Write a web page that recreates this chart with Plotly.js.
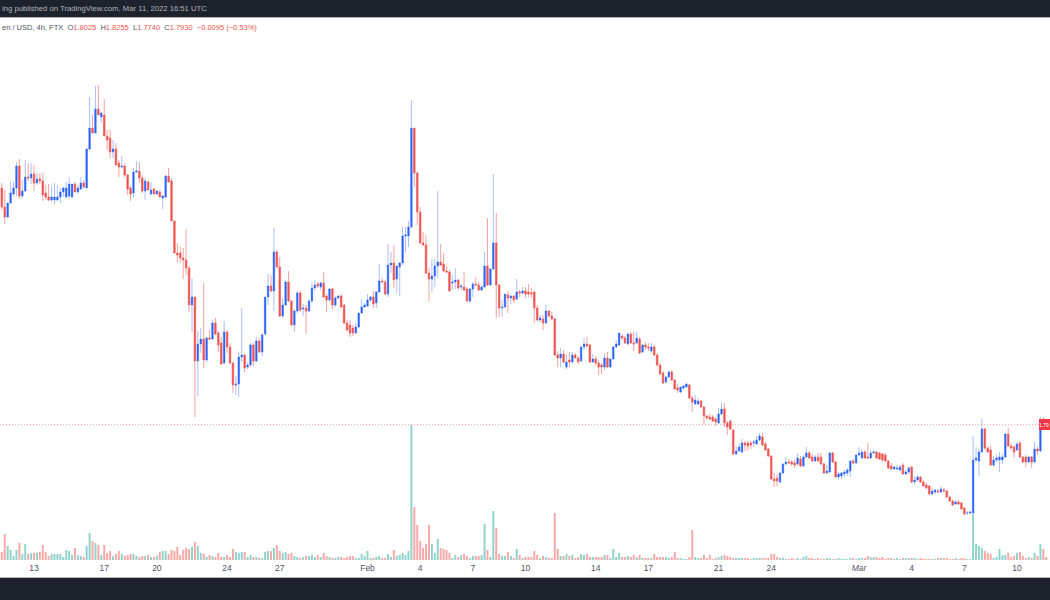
<!DOCTYPE html>
<html><head><meta charset="utf-8">
<script src="https://cdn.plot.ly/plotly-3.0.1.min.js"></script>
<style>html,body{margin:0;padding:0;background:#fff;overflow:hidden}#c{width:1050px;height:600px}</style>
</head><body><div id="c"></div>
<script>
// Prices in US cents. One candle every 4 hours from the start time.
const startTime = Date.UTC(2022,0,11,0,0);
const opens = [
416,416,397,387,401,410,416,438,408,413,
427,426,430,421,425,423,411,407,404,404,
404,407,412,407,408,407,420,412,415,421,
416,455,476,471,495,487,489,468,466,452,
455,441,437,438,429,416,411,432,433,426,
413,422,410,415,410,412,406,407,428,423,
383,351,351,346,344,336,299,307,243,260,
265,244,266,265,281,271,261,241,272,257,
241,219,220,247,249,237,239,259,243,263,
252,270,307,318,313,352,337,288,299,322,
303,279,293,311,295,296,293,303,316,320,
317,321,308,304,315,299,306,308,299,281,
279,276,271,277,291,297,298,304,307,301,
312,323,322,310,339,341,325,337,341,368,
368,377,476,431,392,361,359,331,325,328,
338,342,340,333,332,321,322,324,317,317,
315,303,315,320,319,314,317,338,319,335,
361,319,296,297,309,306,308,305,312,311,
313,312,311,312,296,284,285,281,293,288,
285,249,246,250,237,244,242,249,246,243,
257,260,259,242,245,241,239,237,246,237,
245,257,259,268,266,260,270,261,261,265,
252,259,257,253,257,249,239,231,222,227,
232,224,216,212,216,217,219,206,200,200,
203,197,188,187,187,185,181,190,195,181,
183,174,150,153,152,161,161,161,161,160,
164,167,160,155,148,125,126,122,131,140,
142,142,141,140,145,138,147,151,147,143,
147,147,140,131,132,151,142,127,128,130,
131,133,143,141,149,146,152,147,146,151,
152,151,150,149,143,138,135,135,134,139,
130,132,137,122,124,127,122,119,118,110,
112,113,112,114,113,107,103,100,102,101,
96,91,91,91,144,143,152,175,156,154,
139,144,144,144,147,170,158,157,154,161,
147,147,142,147,142,155,153,184,180.25];
const highs = [
419,421,414,401,422,422,442,445,424,444,
441,441,439,432,431,431,419,420,418,421,
418,416,417,422,427,420,422,419,427,424,
419,507,489,518,519,492,505,474,474,464,
461,444,448,441,430,418,436,443,442,429,
426,424,422,416,414,414,409,429,436,426,
383,361,357,356,375,338,326,307,273,276,
321,267,274,284,286,273,267,283,274,261,
242,228,252,296,250,242,261,261,267,266,
271,272,330,329,376,354,347,306,324,333,
304,295,313,313,300,299,305,322,324,322,
322,332,310,316,316,308,309,310,300,284,
284,279,281,291,305,301,310,308,313,313,
340,326,324,360,352,359,337,342,377,377,
383,504,476,432,397,372,369,336,345,345,
413,360,351,338,334,329,336,325,320,332,
317,316,322,327,322,319,352,386,336,430,
391,320,304,310,313,309,309,325,314,317,
317,320,316,313,299,289,289,299,294,292,
286,253,256,254,249,252,252,251,248,258,
266,267,260,250,248,244,241,251,252,246,
258,264,271,270,268,271,272,272,272,267,
260,262,261,261,259,251,241,233,228,234,
234,225,220,217,219,221,220,208,209,206,
204,198,189,190,189,187,196,201,201,183,
184,175,158,161,165,163,163,163,164,168,
171,171,162,156,149,131,130,132,141,147,
145,144,144,151,148,149,157,153,150,149,
151,151,141,139,152,152,143,132,132,134,
136,144,145,150,157,155,154,161,154,154,
153,152,151,151,144,141,138,139,139,141,
134,138,138,128,129,128,124,121,119,116,
115,115,118,116,114,108,104,104,104,102,
97,93,93,168,157,155,186,176,157,158,
148,149,152,150,171,176,160,159,162,163,
148,149,148,148,162,157,187,187,182.55];
const lows = [
399,394,380,386,400,408,408,405,406,412,
423,420,413,419,420,403,404,403,402,400,
403,401,407,406,406,406,412,411,414,416,
416,454,471,471,489,481,468,454,446,446,
439,427,436,427,409,403,406,431,421,411,
404,414,409,409,409,407,395,406,422,383,
351,342,341,325,329,292,272,187,208,251,
236,242,264,264,269,252,239,240,251,240,
211,209,207,242,232,235,238,238,242,251,
248,269,299,312,293,336,287,286,298,302,
278,272,291,292,288,270,292,301,314,316,
314,306,292,302,295,297,305,296,280,273,
267,268,270,276,290,296,297,302,296,296,
311,321,309,307,331,316,311,308,339,352,
357,376,417,379,360,358,330,303,312,317,
326,338,332,331,313,314,315,315,314,313,
302,301,307,318,313,313,316,318,318,334,
286,287,287,296,291,300,301,304,307,310,
306,307,306,281,283,282,274,280,287,284,
248,237,237,241,235,237,241,245,240,242,
254,257,241,241,239,229,230,234,236,236,
244,256,258,264,260,259,260,253,260,250,
251,254,253,251,248,238,229,220,220,226,
223,214,211,211,214,216,205,192,199,199,
196,180,184,184,182,178,180,189,177,169,
174,149,149,152,151,153,153,155,157,159,
163,158,153,147,124,117,118,121,130,139,
140,138,136,138,137,137,146,145,142,142,
142,139,130,130,131,141,126,125,125,127,
128,127,140,140,148,145,145,145,145,150,
145,144,142,142,135,134,134,134,132,129,
129,130,121,120,123,121,117,115,109,109,
110,111,111,112,106,102,98,99,99,94,
89,89,90,90,142,128,151,154,151,138,
137,142,132,140,146,157,154,146,153,146,
141,137,141,136,141,149,152,178,177.40];
const closes = [
414,397,387,401,411,416,438,408,413,427,
426,430,421,425,423,409,407,404,407,407,
407,412,416,416,420,420,412,416,421,417,
455,476,471,495,489,491,468,464,452,455,
439,437,438,429,415,410,432,433,426,413,
423,414,414,410,413,407,408,428,422,383,
351,349,346,344,336,299,307,243,260,265,
244,266,265,281,270,259,240,272,257,241,
219,220,247,249,236,239,259,243,263,252,
269,307,318,313,352,337,288,299,322,303,
279,293,311,294,296,293,303,316,319,318,
321,307,304,315,299,306,308,297,281,274,
271,271,277,291,297,299,304,307,300,312,
323,322,310,339,341,324,338,341,368,369,
377,476,431,392,361,359,331,325,328,338,
342,339,333,332,313,322,324,316,318,314,
303,315,320,319,314,317,338,319,335,361,
319,296,297,310,306,308,304,312,311,313,
310,310,310,296,284,286,281,293,288,285,
249,246,250,242,242,242,249,246,242,257,
260,258,242,245,241,237,237,246,237,245,
257,260,271,266,261,270,261,260,266,251,
259,257,256,257,249,239,230,221,227,232,
224,215,214,217,218,220,206,202,204,203,
197,188,186,185,183,182,190,195,181,177,
175,150,153,157,161,159,158,159,162,164,
168,159,154,148,125,123,123,131,140,142,
141,140,139,146,138,147,151,146,143,147,
143,140,131,133,151,142,127,130,131,132,
134,143,141,149,151,152,146,146,151,152,
146,145,144,143,136,135,137,136,137,130,
132,136,122,124,127,122,118,116,110,113,
114,112,115,113,107,103,99,102,100,95,
90,91,92,144,146,152,175,156,152,139,
144,146,147,147,170,158,156,152,160,147,
142,142,147,142,155,153,184,183,179.30];
const volumes = [
6,8,26,14,10,4,10,17,6,16,
6,7,7,7,8,15,8,4,6,6,
6,6,3,10,9,5,12,5,4,3,
14,27,19,17,15,5,15,7,9,4,
6,9,6,4,5,6,6,4,3,4,
4,5,3,3,4,8,9,9,6,10,
9,13,5,10,12,11,13,18,14,7,
6,3,5,4,3,7,3,3,5,3,
11,8,7,8,8,3,5,3,3,2,
2,8,9,9,12,15,9,7,8,6,
7,4,3,2,3,4,4,5,3,5,
3,7,4,3,2,2,3,3,2,3,
4,4,2,2,6,4,9,2,2,3,
4,2,2,6,3,10,4,5,7,5,
9,135,53,35,19,12,16,35,16,7,
21,12,11,10,7,2,5,3,5,6,
4,2,4,4,4,5,36,10,3,49,
32,6,4,4,8,4,2,11,5,2,
3,3,3,9,5,2,4,3,2,2,
47,11,4,4,6,4,5,2,3,6,
5,6,3,3,3,3,3,5,5,2,
11,3,7,3,3,4,3,5,3,5,
2,2,2,2,6,3,3,3,3,2,
3,8,2,2,1,1,3,30,3,2,
2,5,2,5,1,2,3,4,5,4,
3,2,2,2,2,2,2,1,2,2,
2,2,2,2,6,6,3,2,2,1,
1,2,1,2,1,3,4,2,2,1,
2,1,1,2,2,1,1,2,1,1,
1,2,2,1,2,2,2,4,3,3,
3,2,3,1,2,2,1,2,1,2,
2,2,2,2,1,2,1,1,1,1,
1,2,2,2,2,1,1,2,1,2,
2,1,1,46,16,14,12,9,7,6,
2,3,11,5,5,7,3,4,7,8,
4,2,3,2,7,4,16,11,3];
const tickDates = ["2022-01-13","2022-01-17","2022-01-20","2022-01-24","2022-01-27","2022-02-01","2022-02-04","2022-02-07","2022-02-10","2022-02-14","2022-02-17","2022-02-21","2022-02-24","2022-03-01","2022-03-04","2022-03-07","2022-03-10"];
const tickLabels = ["13","17","20","24","27","Feb","4","7","10","14","17","21","24","<i>Mar</i>","4","7","10"];
const lastPrice = 179.3;

const times = opens.map((_,i)=>new Date(startTime+i*4*3600*1000).toISOString());
const W=1050,H=600,T=18,B=560,PH=B-T;
const py=y=>(B-y)/PH, px=x=>x/W;
const dark="#1e222d";
const red="#ef5350", grey="#50535e";
const volume={type:"bar",x:times,y:volumes,yaxis:"y2",width:4*3600*1000*0.68,hoverinfo:"skip",
  marker:{color:opens.map((o,i)=>closes[i]>=o?"rgba(38,166,154,0.5)":"rgba(239,83,80,0.5)"),line:{width:0}}};
const candles={type:"candlestick",x:times,open:opens,high:highs,low:lows,close:closes,hoverinfo:"skip",whiskerwidth:0,
  increasing:{line:{color:"rgba(41,98,255,0.4)",width:1},fillcolor:"#2962ff"},
  decreasing:{line:{color:"rgba(239,83,80,0.55)",width:1},fillcolor:"#ef5350"}};
const rect=(x0,x1,y0,y1,c)=>({type:"rect",xref:"paper",yref:"paper",x0:px(x0),x1:px(x1),y0:py(y0),y1:py(y1),fillcolor:c,line:{width:0},layer:"above"});
const layout={width:W,height:H,margin:{l:0,r:0,t:T,b:H-B,pad:0},paper_bgcolor:"#fff",plot_bgcolor:"#fff",showlegend:false,hovermode:false,
  font:{family:"'Liberation Sans',Arial,sans-serif",size:8,color:grey},
  boxgap:0.2,
  xaxis:{type:"date",range:["2022-01-11T01:30:00","2022-03-11T21:07:00"],rangeslider:{visible:false},showgrid:false,zeroline:false,showline:false,
    ticks:"",tickmode:"array",tickvals:tickDates,ticktext:tickLabels,tickangle:0,tickfont:{size:8.5,color:grey},ticklabeloverflow:"allow",ticklabelstandoff:1},
  yaxis:{range:[44,586],visible:false,fixedrange:true},
  yaxis2:{range:[0,542],overlaying:"y",visible:false,fixedrange:true},
  shapes:[
    {type:"line",xref:"paper",yref:"y",x0:0,x1:1,y0:lastPrice,y1:lastPrice,line:{color:"rgba(239,83,80,0.55)",width:1,dash:"1px,2px"},layer:"above"},
    rect(0,W,0,17,dark),rect(0,W,17,18,"#b2b5be"),
    rect(0,W,577,578,"#b2b5be"),rect(0,W,578,600,dark),
    rect(1039,W,419,430,"#f23645")
  ],
  annotations:[
    {xref:"paper",yref:"paper",x:0,y:py(9),xanchor:"left",yanchor:"middle",showarrow:false,font:{size:7.7,color:"#b2b5be"},
     text:"ing published on TradingView.com, Mar 11, 2022 16:51 UTC"},
    {xref:"paper",yref:"paper",x:0,y:py(27),xanchor:"left",yanchor:"middle",showarrow:false,font:{size:7.5,color:grey},
     text:"en / USD, 4h, FTX\u00a0\u00a0O<span style=\"color:"+red+"\">1.8025</span>\u00a0\u00a0H<span style=\"color:"+red+"\">1.8255</span>\u00a0\u00a0L<span style=\"color:"+red+"\">1.7740</span>\u00a0\u00a0C<span style=\"color:"+red+"\">1.7930</span>\u00a0\u00a0<span style=\"color:"+red+"\">\u22120.0095 (\u22120.53%)</span>"},
    {xref:"paper",yref:"paper",x:px(1049),y:py(424.5),xanchor:"right",yanchor:"middle",showarrow:false,font:{size:5,color:"#fff"},borderpad:0,borderwidth:0,text:"1.79"}
  ]};
Plotly.newPlot("c",[volume,candles],layout,{staticPlot:true,displayModeBar:false});
</script></body></html>
